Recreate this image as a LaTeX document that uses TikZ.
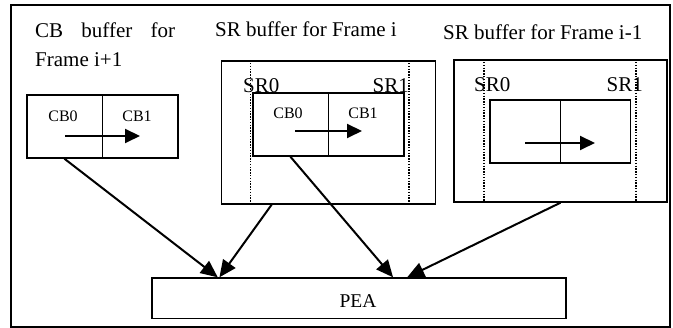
\documentclass[tikz,border=0pt]{standalone}
\usepackage{fontspec}
\setmainfont{Liberation Serif}
\usetikzlibrary{arrows.meta,calc}
\tikzset{
  box/.style={draw,line width=1.4pt,inner sep=0pt,rectangle},
  lbl/.style={inner sep=0pt,font=\fontsize{21}{24}\selectfont},
  small/.style={inner sep=0pt,font=\fontsize{16}{19}\selectfont},
  flow/.style={line width=2pt,-{Triangle[length=17pt,width=15pt]}},
  harrow/.style={line width=2pt,-{Triangle[length=15pt,width=14pt]}},
  sep/.style={line width=1.4pt},
  dots/.style={line width=1.6pt,dash pattern=on 1.4pt off 1.4pt},
}
\begin{document}
\begin{tikzpicture}[x=1pt,y=-1pt]
\useasboundingbox (0,0) rectangle (673,328);
% outer frame
\node[box,line width=1.2pt,minimum width=659pt,minimum height=322pt] (frame) at (340.5,166) {};
% titles
\node[lbl,anchor=base west] (t1) at (35,38) {\makebox[140pt][s]{CB buffer for}};
\node[lbl,anchor=base west] (t1b) at (35,67) {Frame i+1};
\node[lbl,anchor=base west] (t2) at (215,37) {SR buffer for Frame i};
\node[lbl,anchor=base west] (t3) at (443,40) {SR buffer for Frame i-1};
% CB buffer for frame i+1
\node[box,minimum width=151pt,minimum height=63pt] (cb) at (102.5,126.5) {};
\draw[sep] (cb.north) -- (cb.south);
\node[small,anchor=base] (cb0a) at (63,122) {CB0};
\node[small,anchor=base] (cb1a) at (137,122) {CB1};
\coordinate (a1s) at (65,136);
\coordinate (a1e) at (140,136);
\draw[harrow] (a1s) -- (a1e);
% SR buffer for frame i
\node[box,minimum width=214pt,minimum height=143pt] (sri) at (328.5,132.5) {};
\draw[dots] ([xshift=29.5pt]sri.north west) -- ([xshift=29.5pt]sri.south west);
\draw[dots] ([xshift=-27.5pt]sri.north east) -- ([xshift=-27.5pt]sri.south east);
\node[lbl,anchor=base west] (sr0a) at (243,93) {SR0};
\node[lbl,anchor=base east] (sr1a) at (409,93) {SR1};
\node[box,fill=white,minimum width=151pt,minimum height=63pt] (sriin) at (328.5,124.5) {};
\draw[sep] (sriin.north) -- (sriin.south);
\node[small,anchor=base] (cb0b) at (288,119) {CB0};
\node[small,anchor=base] (cb1b) at (363,119) {CB1};
\coordinate (a2s) at (295,131);
\coordinate (a2e) at (362,131);
\draw[harrow] (a2s) -- (a2e);
% SR buffer for frame i-1
\node[box,minimum width=213pt,minimum height=142pt] (srp) at (560.5,131) {};
\draw[dots] ([xshift=30.5pt]srp.north west) -- ([xshift=30.5pt]srp.south west);
\draw[dots] ([xshift=-31.5pt]srp.north east) -- ([xshift=-31.5pt]srp.south east);
\node[lbl,anchor=base west] (sr0b) at (474,92) {SR0};
\node[lbl,anchor=base east] (sr1b) at (643,92) {SR1};
\node[box,fill=white,minimum width=140.5pt,minimum height=63pt] (srpin) at (560.25,131.5) {};
\draw[sep] (srpin.north) -- (srpin.south);
\coordinate (a3s) at (525,143);
\coordinate (a3e) at (595,143);
\draw[harrow] (a3s) -- (a3e);
% PEA
\node[box,minimum width=414pt,minimum height=40.5pt] (pea) at (359,298.25) {};
\node[inner sep=0pt,font=\fontsize{19.5}{23}\selectfont,anchor=base] (pealbl) at (358,308) {PEA};
% connectors
\draw[flow] ($(cb.south west)!0.25!(cb.south east)$) -- ($(pea.north west)!0.16!(pea.north east)$);
\draw[flow] ($(sri.south west)!0.236!(sri.south east)$) -- ($(pea.north west)!0.164!(pea.north east)$);
\draw[flow] ($(sriin.south west)!0.25!(sriin.south east)$) -- ($(pea.north west)!0.582!(pea.north east)$);
\draw[flow] (srp.south) -- ($(pea.north west)!0.616!(pea.north east)$);
\end{tikzpicture}
\end{document}
